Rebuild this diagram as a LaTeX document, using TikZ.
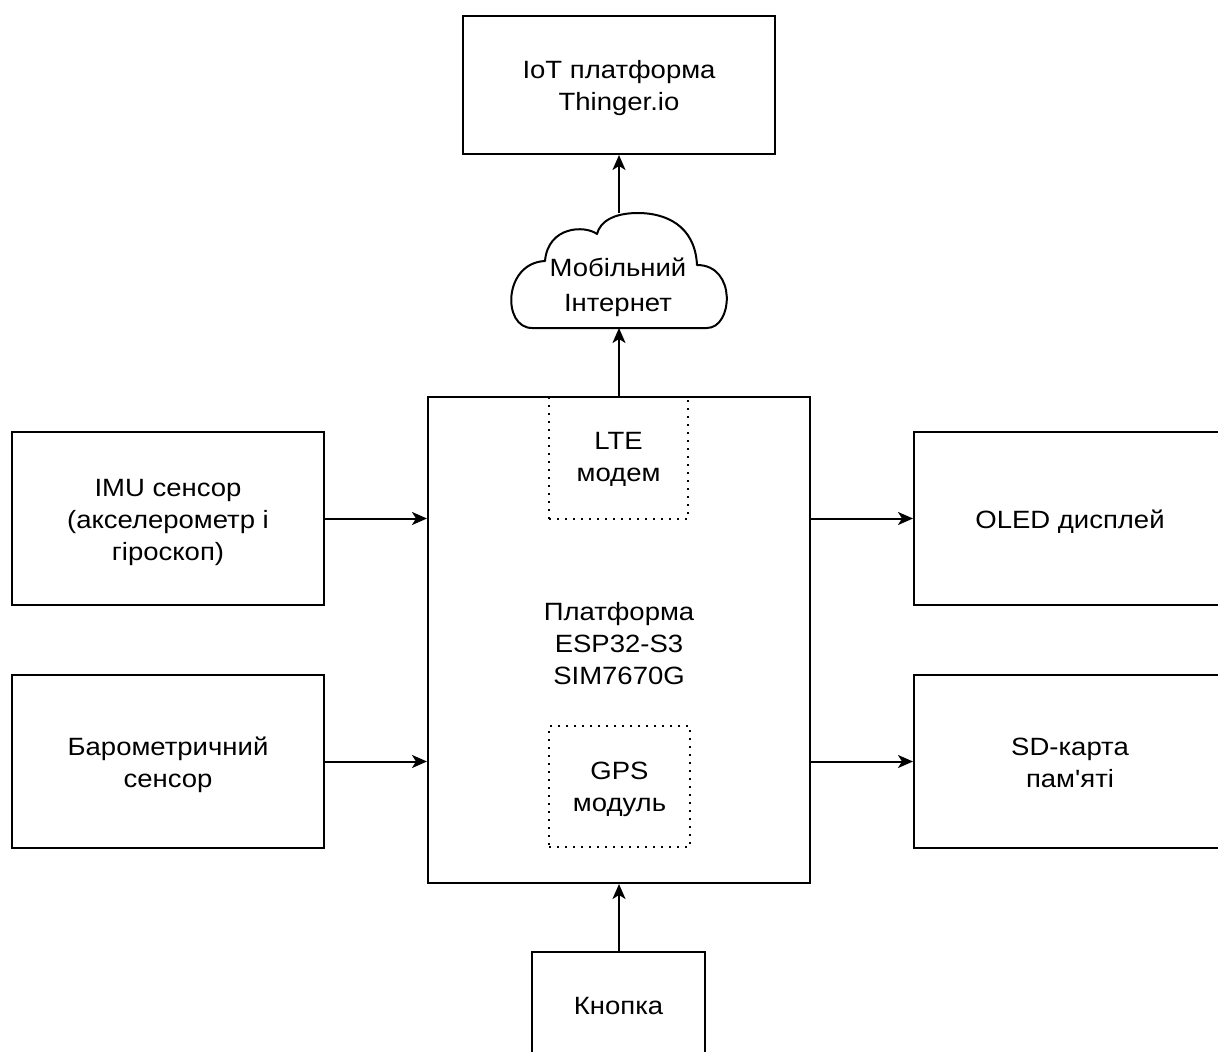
\documentclass[tikz,border=0pt]{standalone}
\usepackage{fontspec}
\setmainfont{Liberation Sans}[Ligatures=TeXOff, FakeStretch=1.1]
\usetikzlibrary{arrows.meta}
\newcommand{\txt}[2][3.5pt]{\raisebox{-#1}[\height][\depth]{\begin{tabular}{@{}c@{}}#2\end{tabular}}}
\begin{document}
\begin{tikzpicture}[x=1pt,y=-1pt,
  every node/.style={font=\fontsize{25}{31.7}\selectfont, inner sep=0pt},
  blk/.style={draw, line width=2pt, rectangle},
  dotbox/.style={draw, line width=1.6pt, dash pattern=on 1.6pt off 6.4pt, rectangle},
  conn/.style={line width=2pt, -{Stealth[length=15pt,width=13pt,inset=4pt]}}
]
\useasboundingbox (0,0) rectangle (1218,1052);
% main platform
\node[blk, minimum width=382pt, minimum height=486pt] (main) at (619,640) {\txt[6pt]{Платформа\\ESP32-S3\\SIM7670G}};
\node[dotbox, minimum width=139pt, minimum height=122pt] (lte) at (618.5,458) {\txt[1.5pt]{LTE\\модем}};
\node[dotbox, minimum width=141pt, minimum height=121pt] (gps) at (619.5,786.5) {\txt[3pt]{GPS\\модуль}};
% top
\node[blk, minimum width=312pt, minimum height=138pt] (iot) at (619,85) {\txt{IoT платформа\\Thinger.io}};
% cloud
\draw[line width=2pt, line join=round] (532,328) -- (707,328)
  .. controls (733,328) and (737,265) .. (697,265)
  .. controls (695,225) and (665,213) .. (638,213)
  .. controls (613,213) and (600,222) .. (597,234)
  .. controls (585,225) and (548,226) .. (545,261)
  .. controls (503,263) and (502,328) .. (532,328) -- cycle;
\node (cloud) at (618,285) {\renewcommand{\arraystretch}{1.104}\txt[2pt]{Мобільний\\Інтернет}};
\coordinate (cloudtop) at (619,213);
\coordinate (cloudbot) at (619,328);
% left
\node[blk, minimum width=312pt, minimum height=173pt] (imu) at (168,518.5) {\txt{IMU сенсор\\(акселерометр і\\гіроскоп)}};
\node[blk, minimum width=312pt, minimum height=173pt] (baro) at (168,761.5) {\txt{Барометричний\\сенсор}};
% right
\node[blk, minimum width=312pt, minimum height=173pt] (oled) at (1070,518.5) {\txt{OLED дисплей}};
\node[blk, minimum width=312pt, minimum height=173pt] (sd) at (1070,761.5) {\txt{SD-карта\\пам'яті}};
% bottom
\node[blk, minimum width=173pt, minimum height=108pt] (btn) at (618.5,1006) {\txt[2pt]{Кнопка}};
% connectors
\draw[conn] (main.north -| cloudbot) -- (cloudbot);
\draw[conn] (cloudtop) -- (iot.south -| cloudtop);
\draw[conn] (imu.east) -- (imu.east -| main.west);
\draw[conn] (baro.east) -- (baro.east -| main.west);
\draw[conn] (oled.west -| main.east) -- (oled.west);
\draw[conn] (sd.west -| main.east) -- (sd.west);
\draw[conn] (btn.north -| cloudbot) -- (main.south -| cloudbot);
\end{tikzpicture}
\end{document}
